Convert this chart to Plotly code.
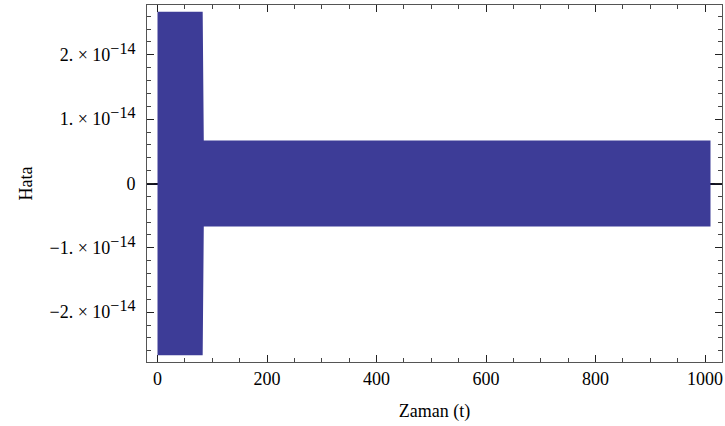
import plotly.graph_objects as go

# Envelope of the rapidly oscillating error signal
t_env = [0, 82.5, 84.5, 1010]
upper_env = [2.67e-14, 2.67e-14, 6.7e-15, 6.7e-15]
lower_env = [-2.67e-14, -2.67e-14, -6.7e-15, -6.7e-15]

x_ticks = [0, 200, 400, 600, 800, 1000]
x_ticktext = ["0", "200", "400", "600", "800", "1000"]
y_ticks = [-2e-14, -1e-14, 0, 1e-14, 2e-14]
sup = "<sup><span style='font-size:16px'>−14</span></sup>"
y_ticktext = ["−2. × 10" + sup, "−1. × 10" + sup, "0",
              "1. × 10" + sup, "2. × 10" + sup]
y_minor = [k * 2e-15 for k in range(-13, 14) if k % 5 != 0]

band_color = "#3d3c97"
frame_color = "#555555"
font_family = "Liberation Serif"

fig = go.Figure()
fig.add_trace(go.Scatter(x=t_env, y=lower_env, mode="lines",
                         line=dict(width=0, color=band_color),
                         showlegend=False, hoverinfo="skip"))
fig.add_trace(go.Scatter(x=t_env, y=upper_env, mode="lines",
                         line=dict(width=0, color=band_color),
                         fill="tonexty", fillcolor=band_color,
                         showlegend=False, hoverinfo="skip"))

axis_common = dict(showgrid=False, showline=True, linecolor=frame_color,
                   linewidth=1, mirror="allticks", ticks="inside",
                   ticklen=7, tickwidth=1, tickcolor="#222222",
                   layer="above traces",
                   tickfont=dict(family=font_family, size=18, color="black"))

fig.update_xaxes(range=[-19.2, 1031], tickmode="array", tickvals=x_ticks,
                 ticktext=x_ticktext, zeroline=False, ticklabelstandoff=0,
                 minor=dict(dtick=50, tick0=0, ticks="inside", ticklen=4,
                            tickcolor="#444444", tickwidth=1),
                 title=dict(text="Zaman (t)", standoff=16,
                            font=dict(family=font_family, size=18, color="black")),
                 **axis_common)
fig.update_yaxes(range=[-2.775e-14, 2.775e-14], tickmode="array",
                 tickvals=y_ticks, ticktext=y_ticktext, ticklabelstandoff=7,
                 zeroline=True, zerolinecolor="#111122", zerolinewidth=1.5,
                 minor=dict(tickmode="array", tickvals=y_minor, ticks="inside",
                            ticklen=4, tickcolor="#444444", tickwidth=1),
                 title=dict(text="Hata", standoff=12,
                            font=dict(family=font_family, size=18, color="black")),
                 **axis_common)

fig.update_layout(width=725, height=426,
                  margin=dict(l=147, r=3, t=5, b=64, autoexpand=False),
                  plot_bgcolor="white", paper_bgcolor="white",
                  font=dict(family=font_family, size=18, color="black"))

fig.write_html("out.html")
